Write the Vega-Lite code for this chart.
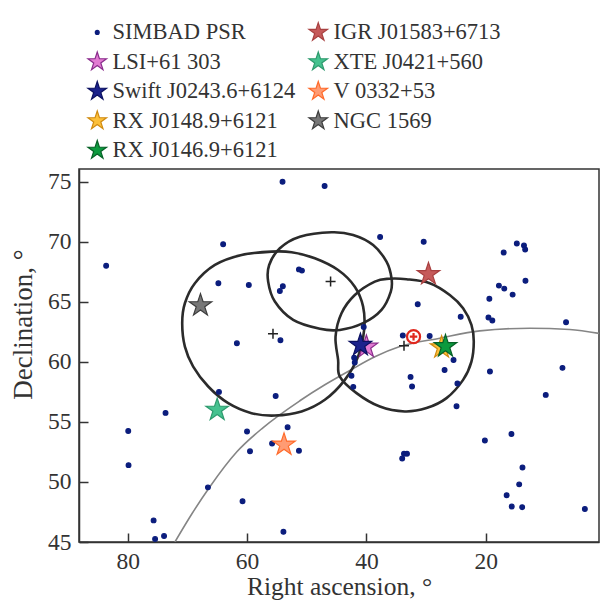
{
  "$schema": "https://vega.github.io/schema/vega-lite/v6.json",
  "width": 520,
  "height": 373,
  "autosize": {"type": "none"},
  "padding": {"left": 79, "top": 169, "right": 7, "bottom": 64},
  "background": "white",
  "config": {
    "font": "Liberation Serif",
    "view": {"stroke": "#333333", "strokeWidth": 1.5},
    "axis": {
      "grid": false,
      "domainColor": "#333333",
      "domainWidth": 1.5,
      "tickColor": "#333333",
      "tickWidth": 1.5,
      "tickSize": -9,
      "labelFont": "Liberation Serif",
      "labelFontSize": 23.5,
      "labelColor": "#333333",
      "titleFont": "Liberation Serif",
      "titleFontSize": 25.5,
      "titleFontWeight": "normal",
      "titleColor": "#333333"
    },
    "legend": {
      "labelFont": "Liberation Serif",
      "labelFontSize": 22.5,
      "labelColor": "#333333",
      "labelLimit": 400,
      "symbolSize": 380,
      "symbolStrokeWidth": 1.2
    }
  },
  "datasets": {
    "ell": [
      {"g": "A", "i": 1, "ra": 45.84, "dec": 70.79},
      {"g": "A", "i": 2, "ra": 51.15, "dec": 70.42},
      {"g": "A", "i": 3, "ra": 54.5, "dec": 69.46},
      {"g": "A", "i": 4, "ra": 56.29, "dec": 68.07},
      {"g": "A", "i": 5, "ra": 56.46, "dec": 66.68},
      {"g": "A", "i": 6, "ra": 55.34, "dec": 65.02},
      {"g": "A", "i": 7, "ra": 52.27, "dec": 63.49},
      {"g": "A", "i": 8, "ra": 47.8, "dec": 62.75},
      {"g": "A", "i": 9, "ra": 44.45, "dec": 62.66},
      {"g": "A", "i": 10, "ra": 40.55, "dec": 63.22},
      {"g": "A", "i": 11, "ra": 37.47, "dec": 64.33},
      {"g": "A", "i": 12, "ra": 35.91, "dec": 65.85},
      {"g": "A", "i": 13, "ra": 35.79, "dec": 66.96},
      {"g": "A", "i": 14, "ra": 36.63, "dec": 68.34},
      {"g": "A", "i": 15, "ra": 38.87, "dec": 69.73},
      {"g": "A", "i": 16, "ra": 42.22, "dec": 70.57},
      {"g": "B", "i": 1, "ra": 55.89, "dec": 69.18},
      {"g": "B", "i": 2, "ra": 60.91, "dec": 68.9},
      {"g": "B", "i": 3, "ra": 65.38, "dec": 68.07},
      {"g": "B", "i": 4, "ra": 68.73, "dec": 66.55},
      {"g": "B", "i": 5, "ra": 70.41, "dec": 64.88},
      {"g": "B", "i": 6, "ra": 70.86, "dec": 63.22},
      {"g": "B", "i": 7, "ra": 70.41, "dec": 61.27},
      {"g": "B", "i": 8, "ra": 69.02, "dec": 59.61},
      {"g": "B", "i": 9, "ra": 66.5, "dec": 57.95},
      {"g": "B", "i": 10, "ra": 63.15, "dec": 56.56},
      {"g": "B", "i": 11, "ra": 59.24, "dec": 55.73},
      {"g": "B", "i": 12, "ra": 55.34, "dec": 55.53},
      {"g": "B", "i": 13, "ra": 50.86, "dec": 55.87},
      {"g": "B", "i": 14, "ra": 46.96, "dec": 56.84},
      {"g": "B", "i": 15, "ra": 43.61, "dec": 58.5},
      {"g": "B", "i": 16, "ra": 41.39, "dec": 60.44},
      {"g": "B", "i": 17, "ra": 40.38, "dec": 62.66},
      {"g": "B", "i": 18, "ra": 40.55, "dec": 64.6},
      {"g": "B", "i": 19, "ra": 41.94, "dec": 66.26},
      {"g": "B", "i": 20, "ra": 44.74, "dec": 67.65},
      {"g": "B", "i": 21, "ra": 48.64, "dec": 68.63},
      {"g": "B", "i": 22, "ra": 52.54, "dec": 69.13},
      {"g": "C", "i": 1, "ra": 33.28, "dec": 66.88},
      {"g": "C", "i": 2, "ra": 29.38, "dec": 66.55},
      {"g": "C", "i": 3, "ra": 26.03, "dec": 65.57},
      {"g": "C", "i": 4, "ra": 23.8, "dec": 64.47},
      {"g": "C", "i": 5, "ra": 22.4, "dec": 63.08},
      {"g": "C", "i": 6, "ra": 22.01, "dec": 61.69},
      {"g": "C", "i": 7, "ra": 22.4, "dec": 60.02},
      {"g": "C", "i": 8, "ra": 23.8, "dec": 58.5},
      {"g": "C", "i": 9, "ra": 26.58, "dec": 56.98},
      {"g": "C", "i": 10, "ra": 29.93, "dec": 56.15},
      {"g": "C", "i": 11, "ra": 33.57, "dec": 55.87},
      {"g": "C", "i": 12, "ra": 37.75, "dec": 56.28},
      {"g": "C", "i": 13, "ra": 41.65, "dec": 57.4},
      {"g": "C", "i": 14, "ra": 44.45, "dec": 58.78},
      {"g": "C", "i": 15, "ra": 44.74, "dec": 60.17},
      {"g": "C", "i": 16, "ra": 45.17, "dec": 62.1},
      {"g": "C", "i": 17, "ra": 44.17, "dec": 64.05},
      {"g": "C", "i": 18, "ra": 41.94, "dec": 65.57},
      {"g": "C", "i": 19, "ra": 38.59, "dec": 66.68},
      {"g": "C", "i": 20, "ra": 36.2, "dec": 66.92}
    ],
    "gal": [
      {"i": 1, "ra": 72.08, "dec": 45.0},
      {"i": 2, "ra": 69.23, "dec": 47.35},
      {"i": 3, "ra": 66.22, "dec": 49.6},
      {"i": 4, "ra": 61.7, "dec": 52.51},
      {"i": 5, "ra": 57.34, "dec": 54.51},
      {"i": 6, "ra": 51.15, "dec": 56.76},
      {"i": 7, "ra": 46.96, "dec": 58.09},
      {"i": 8, "ra": 42.78, "dec": 59.28},
      {"i": 9, "ra": 38.59, "dec": 60.42},
      {"i": 10, "ra": 34.4, "dec": 61.27},
      {"i": 11, "ra": 27.71, "dec": 61.97},
      {"i": 12, "ra": 21.01, "dec": 62.58},
      {"i": 13, "ra": 12.64, "dec": 62.8},
      {"i": 14, "ra": 5.94, "dec": 62.7},
      {"i": 15, "ra": 1.03, "dec": 62.37}
    ],
    "centers": [
      {"ra": 46.0, "dec": 66.7},
      {"ra": 55.65, "dec": 62.35},
      {"ra": 33.7, "dec": 61.35}
    ],
    "target": [
      {"ra": 32.1, "dec": 62.1}
    ],
    "pts": [
      {"name": "SIMBAD PSR", "ra": 54.05, "dec": 75.0},
      {"name": "SIMBAD PSR", "ra": 47.0, "dec": 74.65},
      {"name": "SIMBAD PSR", "ra": 83.6, "dec": 68.0},
      {"name": "SIMBAD PSR", "ra": 64.0, "dec": 69.8},
      {"name": "SIMBAD PSR", "ra": 64.8, "dec": 66.55},
      {"name": "SIMBAD PSR", "ra": 59.7, "dec": 66.4},
      {"name": "SIMBAD PSR", "ra": 54.0, "dec": 66.3},
      {"name": "SIMBAD PSR", "ra": 54.5, "dec": 65.9},
      {"name": "SIMBAD PSR", "ra": 51.3, "dec": 67.7},
      {"name": "SIMBAD PSR", "ra": 50.8, "dec": 67.6},
      {"name": "SIMBAD PSR", "ra": 61.7, "dec": 61.55},
      {"name": "SIMBAD PSR", "ra": 54.4, "dec": 61.8},
      {"name": "SIMBAD PSR", "ra": 37.7, "dec": 70.4},
      {"name": "SIMBAD PSR", "ra": 30.4, "dec": 70.0},
      {"name": "SIMBAD PSR", "ra": 31.4, "dec": 64.8},
      {"name": "SIMBAD PSR", "ra": 24.2, "dec": 63.75},
      {"name": "SIMBAD PSR", "ra": 17.0, "dec": 69.1},
      {"name": "SIMBAD PSR", "ra": 14.8, "dec": 69.85},
      {"name": "SIMBAD PSR", "ra": 13.6, "dec": 69.7},
      {"name": "SIMBAD PSR", "ra": 13.4, "dec": 69.35},
      {"name": "SIMBAD PSR", "ra": 17.8, "dec": 66.35},
      {"name": "SIMBAD PSR", "ra": 16.9, "dec": 66.1},
      {"name": "SIMBAD PSR", "ra": 15.5, "dec": 65.6},
      {"name": "SIMBAD PSR", "ra": 13.35, "dec": 66.75},
      {"name": "SIMBAD PSR", "ra": 19.4, "dec": 65.25},
      {"name": "SIMBAD PSR", "ra": 19.55, "dec": 63.7},
      {"name": "SIMBAD PSR", "ra": 18.9, "dec": 63.45},
      {"name": "SIMBAD PSR", "ra": 6.55, "dec": 63.3},
      {"name": "SIMBAD PSR", "ra": 33.9, "dec": 62.2},
      {"name": "SIMBAD PSR", "ra": 29.4, "dec": 62.15},
      {"name": "SIMBAD PSR", "ra": 25.4, "dec": 60.15},
      {"name": "SIMBAD PSR", "ra": 40.45, "dec": 62.9},
      {"name": "SIMBAD PSR", "ra": 42.05, "dec": 60.35},
      {"name": "SIMBAD PSR", "ra": 41.95, "dec": 59.95},
      {"name": "SIMBAD PSR", "ra": 42.5, "dec": 58.85},
      {"name": "SIMBAD PSR", "ra": 42.2, "dec": 57.92},
      {"name": "SIMBAD PSR", "ra": 26.9, "dec": 59.33},
      {"name": "SIMBAD PSR", "ra": 32.6, "dec": 58.75},
      {"name": "SIMBAD PSR", "ra": 32.35, "dec": 57.95},
      {"name": "SIMBAD PSR", "ra": 24.75, "dec": 58.2},
      {"name": "SIMBAD PSR", "ra": 24.9, "dec": 56.3},
      {"name": "SIMBAD PSR", "ra": 19.3, "dec": 59.2},
      {"name": "SIMBAD PSR", "ra": 7.15, "dec": 59.5},
      {"name": "SIMBAD PSR", "ra": 9.95, "dec": 57.25},
      {"name": "SIMBAD PSR", "ra": 15.7, "dec": 54.0},
      {"name": "SIMBAD PSR", "ra": 20.15, "dec": 53.45},
      {"name": "SIMBAD PSR", "ra": 33.7, "dec": 52.35},
      {"name": "SIMBAD PSR", "ra": 33.2, "dec": 52.35},
      {"name": "SIMBAD PSR", "ra": 34.0, "dec": 51.95},
      {"name": "SIMBAD PSR", "ra": 13.85, "dec": 51.2},
      {"name": "SIMBAD PSR", "ra": 14.4, "dec": 49.8},
      {"name": "SIMBAD PSR", "ra": 16.5, "dec": 48.9},
      {"name": "SIMBAD PSR", "ra": 15.65, "dec": 47.95},
      {"name": "SIMBAD PSR", "ra": 13.9, "dec": 47.9},
      {"name": "SIMBAD PSR", "ra": 3.4, "dec": 47.75},
      {"name": "SIMBAD PSR", "ra": 64.7, "dec": 57.5},
      {"name": "SIMBAD PSR", "ra": 55.2, "dec": 57.15},
      {"name": "SIMBAD PSR", "ra": 73.65, "dec": 55.75},
      {"name": "SIMBAD PSR", "ra": 79.9, "dec": 54.25},
      {"name": "SIMBAD PSR", "ra": 79.85, "dec": 51.4},
      {"name": "SIMBAD PSR", "ra": 60.0, "dec": 54.2},
      {"name": "SIMBAD PSR", "ra": 59.5, "dec": 52.55},
      {"name": "SIMBAD PSR", "ra": 55.8, "dec": 53.2},
      {"name": "SIMBAD PSR", "ra": 53.2, "dec": 54.55},
      {"name": "SIMBAD PSR", "ra": 51.3, "dec": 52.6},
      {"name": "SIMBAD PSR", "ra": 66.55, "dec": 49.55},
      {"name": "SIMBAD PSR", "ra": 60.75, "dec": 48.4},
      {"name": "SIMBAD PSR", "ra": 75.65, "dec": 46.8},
      {"name": "SIMBAD PSR", "ra": 75.4, "dec": 45.25},
      {"name": "SIMBAD PSR", "ra": 73.9, "dec": 45.5},
      {"name": "SIMBAD PSR", "ra": 53.9, "dec": 45.85},
      {"name": "LSI+61 303", "ra": 40.0, "dec": 61.25},
      {"name": "Swift J0243.6+6124", "ra": 41.0, "dec": 61.4},
      {"name": "RX J0148.9+6121", "ra": 27.4, "dec": 61.2},
      {"name": "RX J0146.9+6121", "ra": 26.75, "dec": 61.3},
      {"name": "IGR J01583+6713", "ra": 29.6, "dec": 67.3},
      {"name": "XTE J0421+560", "ra": 65.0, "dec": 56.0},
      {"name": "V 0332+53", "ra": 53.8, "dec": 53.1},
      {"name": "NGC 1569", "ra": 67.8, "dec": 64.7}
    ]
  },
  "encoding": {
    "x": {
      "field": "ra",
      "type": "quantitative",
      "scale": {"domain": [1.03, 88.15], "reverse": true, "nice": false, "zero": false},
      "axis": {"values": [80, 60, 40, 20], "title": "Right ascension, °", "labelPadding": 16, "titlePadding": 1.5}
    },
    "y": {
      "field": "dec",
      "type": "quantitative",
      "scale": {"domain": [45, 76.06], "nice": false, "zero": false},
      "axis": {"values": [45, 50, 55, 60, 65, 70, 75], "title": "Declination, °", "labelPadding": 17, "titlePadding": 10, "titleY": 155, "titleFontSize": 27}
    }
  },
  "layer": [
    {
      "data": {"name": "gal"},
      "mark": {"type": "line", "interpolate": "monotone", "stroke": "#858585", "strokeWidth": 1.6, "clip": true},
      "encoding": {"order": {"field": "i", "type": "quantitative"}}
    },
    {
      "data": {"name": "ell"},
      "mark": {"type": "line", "interpolate": "cardinal-closed", "stroke": "#2b2b2b", "strokeWidth": 2.6, "clip": true},
      "encoding": {
        "detail": {"field": "g", "type": "nominal"},
        "order": {"field": "i", "type": "quantitative"}
      }
    },
    {
      "data": {"name": "centers"},
      "mark": {"type": "point", "shape": "M-1,0H1M0,-1V1", "filled": false, "stroke": "#222222", "strokeWidth": 1.5, "size": 100, "opacity": 1}
    },
    {
      "data": {"name": "pts"},
      "mark": {"type": "point", "filled": true, "opacity": 1, "strokeWidth": 1.2, "size": 560},
      "encoding": {
        "fill": {
          "field": "name",
          "type": "nominal",
          "scale": {
            "domain": ["SIMBAD PSR", "LSI+61 303", "Swift J0243.6+6124", "RX J0148.9+6121", "RX J0146.9+6121", "IGR J01583+6713", "XTE J0421+560", "V 0332+53", "NGC 1569"],
            "range": ["#0b1d7d", "#e27bd2", "#1b228c", "#fcc03a", "#0c9a3e", "#c65a5a", "#45c28f", "#ff9b73", "#777777"]
          },
          "legend": {
            "title": null,
            "orient": "none",
            "legendX": 7,
            "legendY": -148,
            "columns": 2,
            "columnPadding": 10,
            "rowPadding": 5.5,
            "labelOffset": 4
          }
        },
        "stroke": {
          "field": "name",
          "type": "nominal",
          "scale": {
            "domain": ["SIMBAD PSR", "LSI+61 303", "Swift J0243.6+6124", "RX J0148.9+6121", "RX J0146.9+6121", "IGR J01583+6713", "XTE J0421+560", "V 0332+53", "NGC 1569"],
            "range": ["#0b1d7d", "#8a2c8c", "#0b1060", "#d08a10", "#066126", "#a84040", "#2e9a6e", "#ff6a2a", "#3d3d3d"]
          }
        },
        "shape": {
          "field": "name",
          "type": "nominal",
          "scale": {
            "domain": ["SIMBAD PSR", "LSI+61 303", "Swift J0243.6+6124", "RX J0148.9+6121", "RX J0146.9+6121", "IGR J01583+6713", "XTE J0421+560", "V 0332+53", "NGC 1569"],
            "range": ["M0.2,0A0.2,0.2,0,1,1,-0.2,0A0.2,0.2,0,1,1,0.2,0Z",
              "M0,-1L0.2245,-0.309L0.951,-0.309L0.363,0.118L0.588,0.809L0,0.382L-0.588,0.809L-0.363,0.118L-0.951,-0.309L-0.2245,-0.309Z",
              "M0,-1L0.2245,-0.309L0.951,-0.309L0.363,0.118L0.588,0.809L0,0.382L-0.588,0.809L-0.363,0.118L-0.951,-0.309L-0.2245,-0.309Z",
              "M0,-1L0.2245,-0.309L0.951,-0.309L0.363,0.118L0.588,0.809L0,0.382L-0.588,0.809L-0.363,0.118L-0.951,-0.309L-0.2245,-0.309Z",
              "M0,-1L0.2245,-0.309L0.951,-0.309L0.363,0.118L0.588,0.809L0,0.382L-0.588,0.809L-0.363,0.118L-0.951,-0.309L-0.2245,-0.309Z",
              "M0,-1L0.2245,-0.309L0.951,-0.309L0.363,0.118L0.588,0.809L0,0.382L-0.588,0.809L-0.363,0.118L-0.951,-0.309L-0.2245,-0.309Z",
              "M0,-1L0.2245,-0.309L0.951,-0.309L0.363,0.118L0.588,0.809L0,0.382L-0.588,0.809L-0.363,0.118L-0.951,-0.309L-0.2245,-0.309Z",
              "M0,-1L0.2245,-0.309L0.951,-0.309L0.363,0.118L0.588,0.809L0,0.382L-0.588,0.809L-0.363,0.118L-0.951,-0.309L-0.2245,-0.309Z",
              "M0,-1L0.2245,-0.309L0.951,-0.309L0.363,0.118L0.588,0.809L0,0.382L-0.588,0.809L-0.363,0.118L-0.951,-0.309L-0.2245,-0.309Z"]
          }
        }
      }
    },
    {
      "data": {"name": "target"},
      "mark": {"type": "point", "shape": "circle", "filled": true, "fill": "white", "stroke": "#e0281e", "strokeWidth": 2.2, "size": 170, "opacity": 1}
    },
    {
      "data": {"name": "target"},
      "mark": {"type": "point", "shape": "M-1,0H1M0,-1V1", "filled": false, "stroke": "#e0281e", "strokeWidth": 2.2, "size": 56, "opacity": 1}
    }
  ]
}
